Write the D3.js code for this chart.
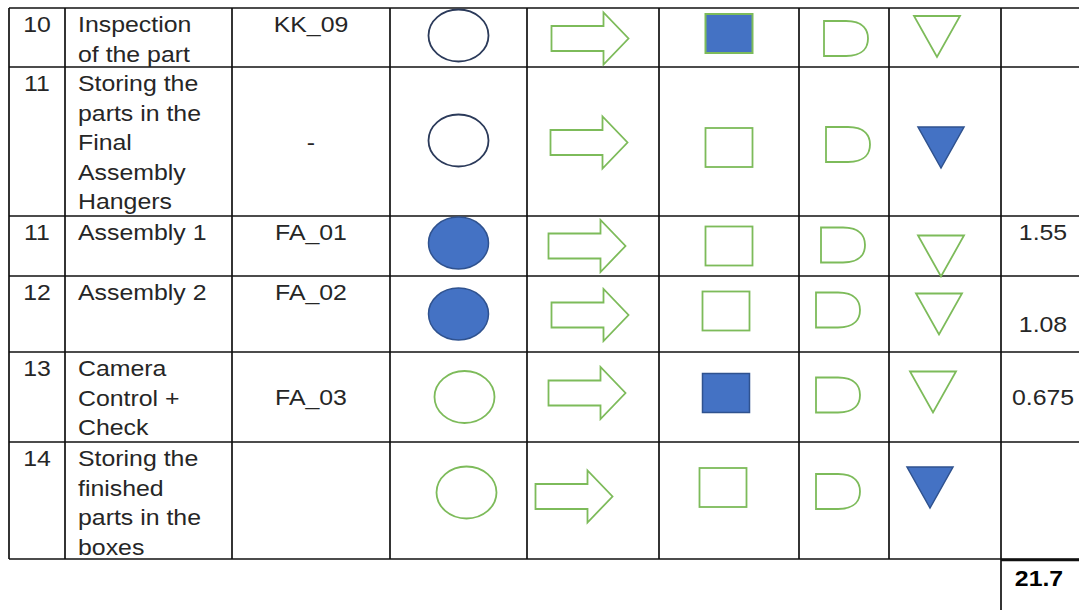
<!DOCTYPE html>
<html>
<head>
<meta charset="utf-8">
<script src="https://cdn.jsdelivr.net/npm/d3@7"></script>
<style>
  html, body { margin: 0; padding: 0; background: #fff; }
  svg { display: block; }
  text { font-family: "Liberation Sans", Arial, sans-serif; }
</style>
</head>
<body>
<svg id="chart" width="1079" height="610"></svg>
<script>
// ---------------- data ----------------
const stepNumbers = ["10", "11", "11", "12", "13", "14"];
const descriptions = [
  "Inspection\nof the part",
  "Storing the\nparts in the\nFinal\nAssembly\nHangers",
  "Assembly 1",
  "Assembly 2",
  "Camera\nControl +\nCheck",
  "Storing the\nfinished\nparts in the\nboxes"
];
const stationCodes = ["KK_09", "-", "FA_01", "FA_02", "FA_03", ""];
// symbol state per row: "outline" (green), "navy" (dark outline), "filled" (blue)
const operationState  = ["navy", "navy", "filled", "filled", "outline", "outline"];
const transportState  = ["outline", "outline", "outline", "outline", "outline", "outline"];
const inspectionState = ["filledGreen", "outline", "outline", "outline", "filled", "outline"];
const delayState      = ["outline", "outline", "outline", "outline", "outline", "outline"];
const storageState    = ["outline", "filled", "outline", "outline", "outline", "filled"];
const timeValues = [null, null, "1.55", "1.08", "0.675", null];
const totalTime = "21.7";

// ---------------- layout ----------------
const columns = ["no", "desc", "code", "op", "trans", "insp", "delay", "stor", "time"];
const colEdges = [9, 65, 232, 390, 527, 659, 799, 889, 1001, 1095];
const rowHeights = [59, 149, 60, 76, 90, 117];
const tableTop = 8;
const codeAlign = ["top", "middle", "top", "top", "middle", "top"];
const timeAlign = ["top", "top", "top", "bottom", "middle", "top"];
const symOffset = {
  op:    [[0, -2], [0, -1], [0, -3], [0, 0], [6, 0], [8, -8]],
  trans: [[-3, 1], [-4, 1], [-6, 0], [-3, 1], [-6, -4], [-19, -4]],
  insp:  [[0, -4], [0, 6], [0, 0], [-3, -3], [-3, -4], [-6, -13]],
  delay: [[2, 1], [4, 3], [-1, -1], [-6, -4], [-6, -2], [-6, -9]],
  stor:  [[-8, -1], [-4, 6], [-4, 10], [-6, 0], [-12, -5], [-15, -13]]
};

const rowIds = d3.range(rowHeights.length);
const rowTops = rowHeights.reduce((a, h, i) => { a.push(a[i] + h); return a; }, [tableTop]);
const tableBottom = rowTops[rowTops.length - 1];

const x = d3.scaleOrdinal().domain(columns).range(colEdges.slice(0, -1));
const xEnd = d3.scaleOrdinal().domain(columns).range(colEdges.slice(1));
const y = d3.scaleOrdinal().domain(rowIds).range(rowTops.slice(0, -1));
const yEnd = d3.scaleOrdinal().domain(rowIds).range(rowTops.slice(1));
const xMid = c => (x(c) + xEnd(c)) / 2;
const yMid = r => (y(r) + yEnd(r)) / 2;

const BLUE = "#4472C4", BLUE_STROKE = "#2F528F", NAVY = "#2B3A5A", GREEN = "#7DBB5A", TEXT = "#262626";
const FONT = 22, LINE = 29.6, SX = 1.13;

const svg = d3.select("#chart");

// ---------------- grid ----------------
const grid = svg.append("g").attr("stroke", "#111").attr("stroke-width", 1.7);
rowTops.forEach(t => grid.append("line").attr("x1", colEdges[0]).attr("x2", 1079).attr("y1", t).attr("y2", t));
colEdges.slice(0, -1).forEach(e => grid.append("line").attr("x1", e).attr("x2", e).attr("y1", tableTop).attr("y2", tableBottom));
// total cell
grid.append("line").attr("x1", x("time")).attr("x2", 1079).attr("y1", tableBottom + 1).attr("y2", tableBottom + 1).attr("stroke-width", 2.6);
grid.append("line").attr("x1", x("time")).attr("x2", x("time")).attr("y1", tableBottom).attr("y2", 610);

// ---------------- text ----------------
const txt = svg.append("g").attr("fill", TEXT).attr("font-size", FONT);
function baseline(r, align, nLines) {
  if (align === "top") return y(r) + 24;
  if (align === "bottom") return yEnd(r) - 20;
  return yMid(r) + 8 - (nLines - 1) * LINE / 2;
}
function label(px, py, anchor) {
  return txt.append("text").attr("transform", `translate(${px},${py}) scale(${SX},1)`).attr("text-anchor", anchor);
}
rowIds.forEach(r => {
  label(xMid("no"), baseline(r, "top", 1), "middle").text(stepNumbers[r]);
  const lines = descriptions[r].split("\n");
  const t = label(x("desc") + 13, baseline(r, "top", 1), "start");
  lines.forEach((l, i) => t.append("tspan").attr("x", 0).attr("dy", i === 0 ? 0 : LINE).text(l));
  if (stationCodes[r]) {
    label(xMid("code"), baseline(r, codeAlign[r], 1), "middle").text(stationCodes[r]);
  }
  if (timeValues[r] !== null) {
    label(x("time") + 42, baseline(r, timeAlign[r], 1), "middle").text(timeValues[r]);
  }
});
label(x("time") + 38, tableBottom + 27, "middle").attr("font-weight", "bold").attr("fill", "#000").text(totalTime);

// ---------------- symbols ----------------
function styleFor(state) {
  if (state === "filled") return { fill: BLUE, stroke: BLUE_STROKE, w: 1.5 };
  if (state === "filledGreen") return { fill: BLUE, stroke: GREEN, w: 2 };
  if (state === "navy") return { fill: "none", stroke: NAVY, w: 1.8 };
  return { fill: "none", stroke: GREEN, w: 1.8 };
}
const sym = svg.append("g");
const arrowPath = (cx, cy) => {
  const w = 77, h = 52, sh = 25, head = 25;
  const x0 = cx - w / 2, x1 = cx + w / 2, xb = x1 - head;
  return `M${x0},${cy - sh / 2}H${xb}V${cy - h / 2}L${x1},${cy}L${xb},${cy + h / 2}V${cy + sh / 2}H${x0}Z`;
};
const delayPath = (cx, cy) => {
  const w = 44, h = 35, x0 = cx - w / 2, x1 = cx + w / 2, xs = x0 + 22;
  return `M${x0},${cy - h / 2}H${xs}C${x1 - 4},${cy - h / 2} ${x1},${cy - 8} ${x1},${cy}C${x1},${cy + 8} ${x1 - 4},${cy + h / 2} ${xs},${cy + h / 2}H${x0}Z`;
};
const triPath = (cx, cy) => {
  const w = 46, h = 41;
  return `M${cx - w / 2},${cy - h / 2}H${cx + w / 2}L${cx},${cy + h / 2}Z`;
};
rowIds.forEach(r => {
  const pos = (c) => [xMid(c) + symOffset[c][r][0], yMid(r) + symOffset[c][r][1]];
  let s, p;
  s = styleFor(operationState[r]); p = pos("op");
  sym.append("ellipse").attr("cx", p[0]).attr("cy", p[1]).attr("rx", 30).attr("ry", 26)
    .attr("fill", s.fill).attr("stroke", s.stroke).attr("stroke-width", s.w);
  s = styleFor(transportState[r]); p = pos("trans");
  sym.append("path").attr("d", arrowPath(p[0], p[1])).attr("fill", s.fill).attr("stroke", s.stroke).attr("stroke-width", s.w);
  s = styleFor(inspectionState[r]); p = pos("insp");
  sym.append("rect").attr("x", p[0] - 23.5).attr("y", p[1] - 19.5).attr("width", 47).attr("height", 39)
    .attr("fill", s.fill).attr("stroke", s.stroke).attr("stroke-width", s.w);
  s = styleFor(delayState[r]); p = pos("delay");
  sym.append("path").attr("d", delayPath(p[0], p[1])).attr("fill", s.fill).attr("stroke", s.stroke).attr("stroke-width", s.w);
  s = styleFor(storageState[r]); p = pos("stor");
  sym.append("path").attr("d", triPath(p[0], p[1])).attr("fill", s.fill).attr("stroke", s.stroke).attr("stroke-width", s.w);
});
</script>
</body>
</html>
